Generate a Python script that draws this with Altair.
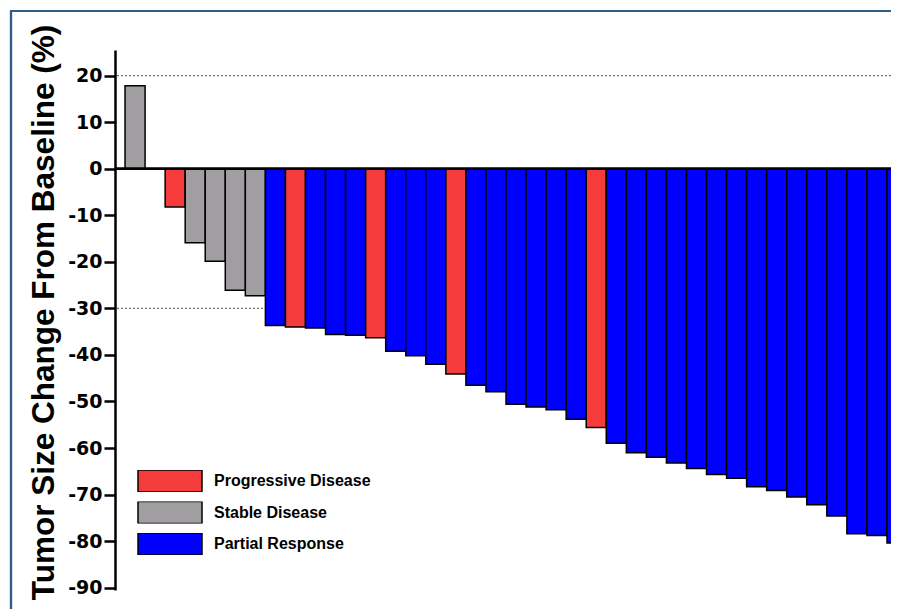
import altair as alt
import pandas as pd

# ---- data ----
positions = [0, 2, 3, 4, 5, 6, 7, 8, 9, 10, 11, 12, 13, 14, 15, 16, 17, 18, 19, 20,
             21, 22, 23, 24, 25, 26, 27, 28, 29, 30, 31, 32, 33, 34, 35, 36, 37, 38]
values = [17.8, -8.2, -15.9, -19.9, -26.1, -27.3, -33.7, -34.0, -34.2, -35.6,
          -35.8, -36.3, -39.2, -40.2, -42.0, -44.1, -46.5, -47.9, -50.6, -51.2,
          -51.8, -53.8, -55.6, -59.0, -61.0, -62.0, -63.2, -64.4, -65.7, -66.5,
          -68.3, -69.1, -70.5, -72.2, -74.6, -78.4, -78.8, -80.4]
S, P, R = "Stable Disease", "Progressive Disease", "Partial Response"
responses = [S, P, S, S, S, S, R, P, R, R,
             R, P, R, R, R, P, R, R, R, R,
             R, R, P, R, R, R, R, R, R, R,
             R, R, R, R, R, R, R, R]
legend_order = ["Progressive Disease", "Stable Disease", "Partial Response"]
legend_colors = ["#f63b3b", "#a09ea1", "#0000fe"]
y_ticks = [20, 10, 0, -10, -20, -30, -40, -50, -60, -70, -80, -90]
ref_levels = [20, -30]

df = pd.DataFrame({"pos": positions, "value": values, "response": responses})
refs = pd.DataFrame({"level": ref_levels})

W, H = 776, 540
x_scale = alt.Scale(domain=[-0.5, 38.2], nice=False, zero=False)
y_scale = alt.Scale(domain=[-90.5, 25.5], nice=False, zero=False)

y_axis = alt.Axis(
    values=y_ticks, grid=False,
    domainColor="black", domainWidth=2.5,
    tickColor="black", tickWidth=2.5, tickSize=11,
    labelFont="DejaVu Sans", labelFontWeight="bold", labelFontSize=19,
    labelColor="black", labelPadding=2,
    labelExpr="'' + datum.value",
    title="Tumor Size Change From Baseline (%)",
    titleFont="Liberation Sans", titleFontWeight="bold", titleFontSize=31.5,
    titleColor="black", titleAngle=270, titleAlign="center",
    titleBaseline="alphabetic", titleX=-62, titleY=262,
)

ref_lines = alt.Chart(refs).mark_rule(
    color="#707070", strokeWidth=1.4, strokeDash=[2, 2]
).encode(
    y=alt.Y("level:Q", scale=y_scale, axis=y_axis),
)

bars = alt.Chart(df).mark_bar(
    stroke="black", strokeWidth=1.5, clip=True, opacity=1
).transform_calculate(
    pos2="datum.pos + 1"
).encode(
    x=alt.X("pos:Q", scale=x_scale, axis=None),
    x2="pos2:Q",
    y=alt.Y("value:Q", scale=y_scale),
    y2=alt.datum(0),
    color=alt.Color(
        "response:N",
        scale=alt.Scale(domain=legend_order, range=legend_colors),
        legend=alt.Legend(
            title=None, orient="none", legendX=22, legendY=420,
            symbolType="M-1,-0.344H1V0.344H-1Z", symbolSize=4096,
            symbolStrokeColor="black", symbolStrokeWidth=1.5,
            symbolOpacity=1, clipHeight=22, rowPadding=9.5,
            labelFont="Liberation Sans", labelFontWeight="bold",
            labelFontSize=16, labelColor="black", labelOffset=11,
            padding=0,
        ),
    ),
)

zero_line = alt.Chart(refs).mark_rule(color="black", strokeWidth=2.5).encode(
    y=alt.datum(0, scale=y_scale),
)

frame_left = alt.Chart(refs).mark_rule(color="#2f5f88", strokeWidth=2.2).encode(
    x=alt.value(-104), y=alt.value(-39), y2=alt.value(620)
)
frame_top = alt.Chart(refs).mark_rule(color="#2f5f88", strokeWidth=2.2).encode(
    x=alt.value(-105), x2=alt.value(800), y=alt.value(-39)
)

chart = alt.layer(
    frame_left, frame_top, ref_lines, bars, zero_line
).resolve_scale(y="shared").properties(
    width=W, height=H,
    autosize=alt.AutoSizeParams(type="none"),
    padding={"left": 107, "top": 42, "right": 0, "bottom": 19},
    background="white",
).configure_view(stroke=None)

chart.save("out.html", embed_options={"renderer": "svg", "actions": False})
